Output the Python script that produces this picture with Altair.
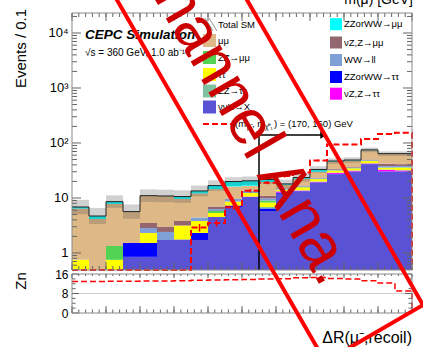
import altair as alt
import pandas as pd

FONT = "Liberation Sans"

# ---------------- data ----------------
bin_lo = [0.8, 0.9, 1.0, 1.1, 1.2, 1.3, 1.4, 1.5, 1.6, 1.7,
          1.8, 1.9, 2.0, 2.1, 2.2, 2.3, 2.4, 2.5, 2.6, 2.7]
bin_width = 0.1
x_end = 2.8

# stack order: bottom -> top
proc_names = ["ννH→X", "ZZorWW→ττ", "νZ,Z→ττ", "ZZ→ττ", "ττ",
              "ZZ→μμ", "WW→ll", "νZ,Z→μμ", "μμ", "ZZorWW→μμ"]
proc_colors = ["#5a52d5", "#0000ff", "#ff00ff", "#80c2a0", "#ffff00",
               "#52d452", "#7f9fd7", "#946670", "#deb887", "#00ffff"]

nnh_x       = [0, 0, 0, 0.85, 0.85, 1.72, 1.76, 1.72, 4.5, 6.7, 10.4, 5.8, 12, 13, 19, 27, 30, 41, 30, 30]
zzww_tautau = [0, 0, 0, 0.67, 0.67, 0, 0, 0.59, 0, 0.6, 0, 0.65, 0.5, 0.3, 0.3, 0.4, 0.3, 0.4, 0.4, 0.4]
nz_tautau   = [0, 0, 0, 0, 0, 0, 0, 0, 0, 0, 0.2, 0, 0.6, 0.3, 0.4, 1.2, 1.0, 1.0, 2.0, 1.2]
zz_tautau   = [0, 0, 0, 0, 0, 0, 0, 0, 0, 0, 0, 0.4, 0.2, 0.2, 0.3, 0.4, 0.4, 0.5, 0.6, 0.6]
tautau      = [0.75, 0, 0.75, 0, 0.79, 0, 1.4, 1.5, 0.83, 1.3, 1.7, 1.42, 0.8, 1.8, 2.0, 2.5, 2.8, 4.0, 2.5, 3.5]
zz_mumu     = [0, 0, 0.59, 0, 0, 0, 0, 0, 0.46, 0, 0, 0.73, 0.2, 0.3, 0.3, 0.4, 0.4, 0.5, 0.5, 0.5]
ww_ll       = [0, 0, 0, 0, 0.53, 0.69, 0, 0.61, 0.5, 1.0, 1.3, 0.8, 0.4, 0.4, 0.6, 0.8, 0.8, 1.2, 2.0, 2.0]
nz_mumu     = [0, 0, 0, 0, 0.67, 0.56, 0.65, 0, 0.7, 0, 0, 1.1, 0.4, 0.5, 0.6, 1.0, 0.8, 1.4, 4.0, 3.0]
mumu        = [5.65, 4.15, 6.46, 4.13, 7.5, 7.9, 5.8, 7.7, 7.5, 6.6, 3.1, 8.6, 2.3, 5.5, 6.5, 12, 11.5, 24, 21, 22]
zzww_mumu   = [0.45, 0.55, 0.77, 0, 0, 0, 1.0, 1.3, 2.3, 3.7, 3.8, 2.2, 0.6, 1.2, 3.0, 1.3, 1.0, 1.0, 1.0, 0.8]
proc_values = [nnh_x, zzww_tautau, nz_tautau, zz_tautau, tautau,
               zz_mumu, ww_ll, nz_mumu, mumu, zzww_mumu]

total_rel_unc = [0.35, 0.4, 0.3, 0.35, 0.3, 0.3, 0.3, 0.25, 0.25, 0.2,
                 0.2, 0.2, 0.2, 0.18, 0.15, 0.12, 0.12, 0.1, 0.1, 0.1]

signal     = [0, 0, 0, 0, 0, 0, 0, 2.9, 3.5, 6.8, 13.6, 19, 25, 29, 48, 94, 94, 118, 145, 153]
signal_err = [0, 0, 0, 0, 0, 0, 0, 0.45, 0.5, 0.7, 1.0, 1.2, 1.5, 1.6, 2.0, 2.8, 2.8, 3.2, 3.5, 3.6]

zn = [12.9, 12.9, 13.0, 13.0, 13.1, 13.1, 13.2, 13.4, 13.5, 13.6,
      13.7, 13.9, 14.1, 14.5, 14.6, 14.2, 14.0, 13.2, 12.3, 9.0]

cut_value = 1.9
arrow_height = 140
arrow_end = 2.28

y_major = [1, 10, 100, 1000, 10000]
y_labels = ["1", "10", "10²", "10³", "10⁴"]
zn_major = [0, 8, 16]
x_major = [round(0.8 + 0.2 * i, 1) for i in range(11)]

legend_left = [("μμ", "#deb887"), ("ZZ→μμ", "#52d452"), ("ττ", "#ffff00"),
               ("ZZ→ττ", "#80c2a0"), ("ννH→X", "#5a52d5")]
legend_right = [("ZZorWW→μμ", "#00ffff"), ("νZ,Z→μμ", "#946670"), ("WW→ll", "#7f9fd7"),
                ("ZZorWW→ττ", "#0000ff"), ("νZ,Z→ττ", "#ff00ff")]

# ---------------- layout ----------------
LEFT, TOP = 72, 13
W, H = 340, 300
H_MAIN = 257
ZN_TOP = 261
FLOOR = 0.01
TICK = "#666"
FRAME = "#888"


def P(xp, yp):
    return xp - LEFT, yp - TOP


XS = alt.Scale(domain=[0.8, 2.8], range=[0, W], nice=False, zero=False)
YM = alt.Scale(type="log", domain=[0.49, 23100], range=[H_MAIN, 0], clamp=True, nice=False)
YZ = alt.Scale(domain=[0, 16], range=[H, ZN_TOP], nice=False, zero=False)

ONE = pd.DataFrame({"a": [0]})

# stacked backgrounds
rows = []
for i, lo in enumerate(bin_lo):
    cum = 0.0
    for name, vals in zip(proc_names, proc_values):
        v = vals[i]
        if v > 0:
            rows.append({"x0": lo, "x1": round(lo + bin_width, 2),
                         "lo": max(cum, FLOOR), "hi": cum + v, "proc": name})
        cum += v
stack_df = pd.DataFrame(rows)
totals = [sum(vals[i] for vals in proc_values) for i in range(len(bin_lo))]

label_expr = "".join(f"datum.value == {v} ? '{t}' : " for v, t in zip(y_major, y_labels)) + "''"

bars = alt.Chart(stack_df).mark_rect().encode(
    x=alt.X("x0:Q", scale=XS, axis=None),
    x2="x1:Q",
    y=alt.Y("lo:Q", scale=YM, axis=alt.Axis(
        orient="left", values=y_major, labelExpr=label_expr, ticks=False, tickSize=0,
        domain=False, grid=False, labelFont=FONT, labelFontSize=13, labelColor="black",
        labelPadding=4, labelFlush=False, labelOverlap=False, title=None)),
    y2="hi:Q",
    color=alt.Color("proc:N", scale=alt.Scale(domain=proc_names, range=proc_colors), legend=None),
)

band_df = pd.DataFrame({
    "x0": bin_lo, "x1": [round(b + bin_width, 2) for b in bin_lo],
    "lo": [t / (1 + u) for t, u in zip(totals, total_rel_unc)],
    "hi": [t * (1 + u) for t, u in zip(totals, total_rel_unc)],
})
band = alt.Chart(band_df).mark_rect(color="#555", opacity=0.27).encode(
    x=alt.X("x0:Q", scale=XS, axis=None), x2="x1:Q",
    y=alt.Y("lo:Q", scale=YM, axis=None), y2="hi:Q")

tot_df = pd.DataFrame({"x": bin_lo + [x_end], "y": totals + [totals[-1]]})
tot_line = alt.Chart(tot_df).mark_line(interpolate="step-after", color="#222", strokeWidth=1).encode(
    x=alt.X("x:Q", scale=XS, axis=None), y=alt.Y("y:Q", scale=YM, axis=None))

sig_df = pd.DataFrame({"x": bin_lo + [x_end], "y": [max(s, FLOOR) for s in signal] + [FLOOR]})
sig_line = alt.Chart(sig_df).mark_line(interpolate="step-after", color="#ff0000", strokeWidth=2,
                                       strokeDash=[6, 3]).encode(
    x=alt.X("x:Q", scale=XS, axis=None), y=alt.Y("y:Q", scale=YM, axis=None))

err_df = pd.DataFrame([{"x": round(lo + bin_width / 2, 2), "lo": s - e, "hi": s + e}
                       for lo, s, e in zip(bin_lo, signal, signal_err) if s > 0])
sig_err = alt.Chart(err_df).mark_rule(color="#ff0000", strokeWidth=1.5).encode(
    x=alt.X("x:Q", scale=XS, axis=None), y=alt.Y("lo:Q", scale=YM, axis=None), y2="hi:Q")

arrow_df = pd.DataFrame({"x": [cut_value], "x2": [arrow_end], "yb": [FLOOR], "yt": [arrow_height]})
arrow_v = alt.Chart(arrow_df).mark_rule(color="black", strokeWidth=1.5).encode(
    x=alt.X("x:Q", scale=XS, axis=None), y=alt.Y("yb:Q", scale=YM, axis=None), y2="yt:Q")
arrow_h = alt.Chart(arrow_df).mark_rule(color="black", strokeWidth=1.5).encode(
    x=alt.X("x:Q", scale=XS, axis=None), x2="x2:Q", y=alt.Y("yt:Q", scale=YM, axis=None))
arrow_head = alt.Chart(arrow_df).mark_point(shape="triangle-right", filled=True, size=60,
                                            color="black", opacity=1).encode(
    x=alt.X("x2:Q", scale=XS, axis=None), y=alt.Y("yt:Q", scale=YM, axis=None))

zn_df = pd.DataFrame({"x": bin_lo + [x_end], "zn": zn + [0]})
zn_line = alt.Chart(zn_df).mark_line(interpolate="step-after", color="#ff0000", strokeWidth=1.5,
                                     strokeDash=[6, 3]).encode(
    x=alt.X("x:Q", scale=XS, axis=alt.Axis(
        values=x_major, format=".1~f", ticks=False, tickSize=0, domain=False, grid=False,
        labelFont=FONT, labelFontSize=13, labelColor="black", labelPadding=2,
        labelFlush=False, labelOverlap=False, title=None)),
    y=alt.Y("zn:Q", scale=YZ, axis=alt.Axis(
        orient="left", values=zn_major, ticks=False, tickSize=0, domain=False, grid=False,
        labelFont=FONT, labelFontSize=12, labelColor="black", labelPadding=4,
        labelFlush=False, labelOverlap=False, title=None)),
)

zn_grid = alt.Chart(pd.DataFrame({"v": [8]})).mark_rule(color="#d0d0d0", strokeWidth=1).encode(
    y=alt.Y("v:Q", scale=YZ, axis=None), x=alt.value(0), x2=alt.value(W))


# ---------------- ticks (through the scales) ----------------
def xticks(vals, y0, y1):
    return alt.Chart(pd.DataFrame({"v": vals})).mark_rule(color=TICK, strokeWidth=1).encode(
        x=alt.X("v:Q", scale=XS, axis=None), y=alt.value(y0), y2=alt.value(y1))


def yticks(vals, scale, x0, x1):
    return alt.Chart(pd.DataFrame({"v": vals})).mark_rule(color=TICK, strokeWidth=1).encode(
        y=alt.Y("v:Q", scale=scale, axis=None), x=alt.value(x0), x2=alt.value(x1))


x_minor = [round(0.8 + 0.04 * i, 2) for i in range(51)]
y_minor = [m * 10 ** k for k in range(-1, 5) for m in range(2, 10) if 0.49 <= m * 10 ** k <= 23100]
zn_minor = [2, 4, 6, 10, 12, 14]

tick_layers = [
    xticks(x_major, H_MAIN, H_MAIN - 8), xticks(x_minor, H_MAIN, H_MAIN - 4),
    xticks(x_major, 0, 8), xticks(x_minor, 0, 4),
    xticks(x_major, H, H - 7), xticks(x_minor, H, H - 3.5),
    xticks(x_major, ZN_TOP, ZN_TOP + 4), xticks(x_minor, ZN_TOP, ZN_TOP + 2),
    yticks(y_major, YM, 0, 9), yticks(y_minor, YM, 0, 5),
    yticks(y_major, YM, W, W - 9), yticks(y_minor, YM, W, W - 5),
    yticks(zn_major, YZ, 0, 7), yticks(zn_minor, YZ, 0, 3.5),
    yticks(zn_major, YZ, W, W - 7), yticks(zn_minor, YZ, W, W - 3.5),
]


def frame(y0, y1):
    return alt.Chart(ONE).mark_rect(fillOpacity=0, stroke=FRAME, strokeWidth=1).encode(
        x=alt.value(0), x2=alt.value(W), y=alt.value(y0), y2=alt.value(y1))


def text(xp, yp, s, size, align="left", baseline="alphabetic", **kw):
    x, y = P(xp, yp)
    return alt.Chart(ONE).mark_text(text=s, fontSize=size, font=FONT, align=align,
                                    baseline=baseline, color="black", **kw).encode(
        x=alt.value(x), y=alt.value(y))


def box(xp0, yp0, xp1, yp1, color):
    x0, y0 = P(xp0, yp0)
    x1, y1 = P(xp1, yp1)
    return alt.Chart(ONE).mark_rect(color=color).encode(
        x=alt.value(x0), x2=alt.value(x1), y=alt.value(y0), y2=alt.value(y1))


def seg(p0, p1, color, width, **kw):
    x0, y0 = P(*p0)
    x1, y1 = P(*p1)
    return alt.Chart(ONE).mark_rule(color=color, strokeWidth=width, **kw).encode(
        x=alt.value(x0), y=alt.value(y0), x2=alt.value(x1), y2=alt.value(y1))


# ---------------- texts & legend ----------------
deco = [
    text(85, 39, "CEPC Simulation", 13.5, fontStyle="italic", fontWeight="bold"),
    text(85, 56, "√s = 360 GeV, 1.0 ab⁻¹", 10),
    text(21, 48.5, "Events / 0.1", 15, align="center", baseline="middle", angle=270),
    text(21, 281, "Zn", 15, align="center", baseline="middle", angle=270),
    text(412, 343, "ΔR(μ⁻,recoil)", 16, align="right"),
    text(413, 4, "m(μ̃) [GeV]", 14, align="right"),
]

# Total SM entry (hatched)
deco += [seg((203 + d, 18), (203 + d + 8, 31), "#999", 1) for d in (-2, 2, 6)]
deco.append(text(218, 24.5, "Total SM", 9.5, baseline="middle"))
left_rows = [40.5, 57.5, 74.5, 91, 107]
for (lab, col), yc in zip(legend_left, left_rows):
    deco.append(box(203, yc - 6.5, 216, yc + 6.5, col))
    deco.append(text(218, yc, lab, 9.5, baseline="middle"))
deco.append(seg((203, 124), (231, 124), "#ff0000", 2, strokeDash=[6, 3]))
deco.append(text(235, 124, "(m", 9.5, baseline="middle"))
deco.append(text(247, 127, "μ̃", 6.5, baseline="middle"))
deco.append(text(252, 124, ", m", 9.5, baseline="middle"))
deco.append(text(265, 127, "χ̃⁰₁", 6.5, baseline="middle"))
deco.append(text(274, 124, ") = (170, 160) GeV", 9.5, baseline="middle"))

right_rows = [24.2, 42.5, 60, 77, 93.7]
for (lab, col), yc in zip(legend_right, right_rows):
    deco.append(box(330, yc - 6, 342, yc + 6, col))
    deco.append(text(344, yc, lab, 9.5, baseline="middle"))

# ---------------- watermark ----------------
WM = "#ff0000"
watermark = [
    seg((98, -33), (330, 370), WM, 4, strokeCap="square"),
    seg((228, -33), (423, 305), WM, 4, strokeCap="square"),
    seg((423, 305), (318, 366), WM, 4, strokeCap="square"),
]
wx, wy = P(322, 289)
watermark.append(alt.Chart(ONE).mark_text(
    text="Channel Ana.", angle=60, fontSize=64, font=FONT, color="#cc0000",
    align="right", baseline="alphabetic").encode(x=alt.value(wx), y=alt.value(wy)))

layers = ([zn_grid, bars, band, tot_line, sig_line, sig_err, arrow_v, arrow_h, arrow_head, zn_line]
          + tick_layers + [frame(0, H_MAIN), frame(ZN_TOP, H)] + deco + watermark)

chart = alt.layer(*layers).resolve_scale(y="independent").properties(
    width=W, height=H,
    autosize=alt.AutoSizeParams(type="none"),
    padding={"left": LEFT, "top": TOP, "right": 423 - LEFT - W, "bottom": 347 - TOP - H},
).configure_view(strokeWidth=0)

chart.save("out.html", embed_options={"renderer": "svg", "actions": False})
